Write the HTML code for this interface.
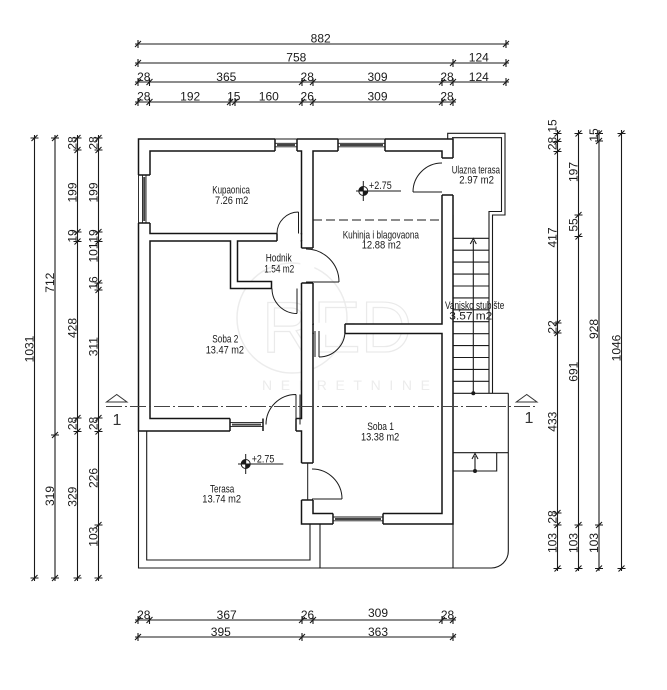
<!DOCTYPE html>
<html><head><meta charset="utf-8"><style>
html,body{margin:0;padding:0;background:#fff;}
svg{display:block;}
.d{font-family:"Liberation Sans",sans-serif;font-size:12px;fill:#1a1a1a;text-anchor:middle;}
.r{font-family:"Liberation Sans",sans-serif;font-size:11px;fill:#1a1a1a;}
</style></head><body>
<svg width="667" height="690" viewBox="0 0 667 690" xmlns="http://www.w3.org/2000/svg">
<rect width="667" height="690" fill="#fff"/>

<!-- watermark -->
<g fill="none" stroke="#ececec" stroke-width="1.5">
<circle cx="292" cy="318" r="55"/>
</g>
<text x="262" y="352" font-family="Liberation Sans,sans-serif" font-size="72" fill="none" stroke="#eaeaea" stroke-width="1.2" textLength="150" lengthAdjust="spacingAndGlyphs">RED</text>
<text x="262" y="390" font-family="Liberation Sans,sans-serif" font-size="14" fill="#ececec" textLength="168" lengthAdjust="spacing">NEKRETNINE</text>

<!-- dimension lines -->
<g stroke="#1a1a1a" stroke-width="1.1" fill="none">
<path d="M135 44H509M138 40V48M135 47L141 41M506 40V48M503 47L509 41
M135 63H509M138 59V67M135 66L141 60M453 59V67M450 66L456 60M506 59V67M503 66L509 60
M135 82H509M138 78V86M135 85L141 79M149.5 78V86M146.5 85L152.5 79M302 78V86M299 85L305 79M313 78V86M310 85L316 79M442 78V86M439 85L445 79M453 78V86M450 85L456 79M506 78V86M503 85L509 79
M135 102H456M138 98V106M135 105L141 99M149.5 98V106M146.5 105L152.5 99M230 98V106M227 105L233 99M235 98V106M232 105L238 99M302 98V106M299 105L305 99M313 98V106M310 105L316 99M442 98V106M439 105L445 99M453 98V106M450 105L456 99
M135 620H456M138 616V624M135 623L141 617M149.5 616V624M146.5 623L152.5 617M302 616V624M299 623L305 617M313 616V624M310 623L316 617M442 616V624M439 623L445 617M453 616V624M450 623L456 617
M135 637H456M138 633V641M135 640L141 634M302 633V641M299 640L305 634M453 633V641M450 640L456 634
M34.5 135V581M30.5 138H38.5M31.5 141L37.5 135M30.5 578H38.5M31.5 581L37.5 575
M55 135V581M51 138H59M52 141L58 135M51 435H59M52 438L58 432M51 578H59M52 581L58 575
M77.5 135V581M73.5 138H81.5M74.5 141L80.5 135M73.5 150H81.5M74.5 153L80.5 147M73.5 232H81.5M74.5 235L80.5 229M73.5 241.5H81.5M74.5 244.5L80.5 238.5M73.5 418H81.5M74.5 421L80.5 415M73.5 431.5H81.5M74.5 434.5L80.5 428.5M73.5 578H81.5M74.5 581L80.5 575
M98.5 135V581M94.5 138H102.5M95.5 141L101.5 135M94.5 150H102.5M95.5 153L101.5 147M94.5 232H102.5M95.5 235L101.5 229M94.5 241.5H102.5M95.5 244.5L101.5 238.5M94.5 283H102.5M95.5 286L101.5 280M94.5 290H102.5M95.5 293L101.5 287M94.5 418H102.5M95.5 421L101.5 415M94.5 431.5H102.5M95.5 434.5L101.5 428.5M94.5 525H102.5M95.5 528L101.5 522M94.5 578H102.5M95.5 581L101.5 575
M557.5 130V571M553.5 133.5H561.5M554.5 136.5L560.5 130.5M553.5 141.5H561.5M554.5 144.5L560.5 138.5M553.5 151.5H561.5M554.5 154.5L560.5 148.5M553.5 323H561.5M554.5 326L560.5 320M553.5 333H561.5M554.5 336L560.5 330M553.5 513H561.5M554.5 516L560.5 510M553.5 525H561.5M554.5 528L560.5 522M553.5 568.5H561.5M554.5 571.5L560.5 565.5
M578.5 130V571M574.5 133.5H582.5M575.5 136.5L581.5 130.5M574.5 215H582.5M575.5 218L581.5 212M574.5 236.5H582.5M575.5 239.5L581.5 233.5M574.5 525H582.5M575.5 528L581.5 522M574.5 568.5H582.5M575.5 571.5L581.5 565.5
M599 130V571M595 133.5H603M596 136.5L602 130.5M595 141H603M596 144L602 138M595 525H603M596 528L602 522M595 568.5H603M596 571.5L602 565.5
M621.5 130V571M617.5 133.5H625.5M618.5 136.5L624.5 130.5M617.5 568.5H625.5M618.5 571.5L624.5 565.5"/>
</g>

<!-- dimension texts top -->
<text class="d" x="320.7" y="42.5">882</text>
<text class="d" x="296.3" y="61.5">758</text>
<text class="d" x="478.8" y="61.5">124</text>
<text class="d" x="143.8" y="81">28</text>
<text class="d" x="226.3" y="81">365</text>
<text class="d" x="307.2" y="81">28</text>
<text class="d" x="377.5" y="81">309</text>
<text class="d" x="447" y="81">28</text>
<text class="d" x="478.8" y="81">124</text>
<text class="d" x="143.8" y="100.5">28</text>
<text class="d" x="190.2" y="100.5">192</text>
<text class="d" x="233.8" y="100.5">15</text>
<text class="d" x="268.8" y="100.5">160</text>
<text class="d" x="307.2" y="100.5">26</text>
<text class="d" x="377.5" y="100.5">309</text>
<text class="d" x="447" y="100.5">28</text>
<!-- bottom -->
<text class="d" x="143.8" y="619">28</text>
<text class="d" x="226.7" y="619">367</text>
<text class="d" x="307.5" y="619">26</text>
<text class="d" x="378" y="617">309</text>
<text class="d" x="447.5" y="619">28</text>
<text class="d" x="220.8" y="636">395</text>
<text class="d" x="378" y="636">363</text>
<!-- left -->
<text class="d" transform="translate(33.5,349) rotate(-90)">1031</text>
<text class="d" transform="translate(54,282.7) rotate(-90)">712</text>
<text class="d" transform="translate(54,496) rotate(-90)">319</text>
<text class="d" transform="translate(76.5,143) rotate(-90)">28</text>
<text class="d" transform="translate(76.5,192.5) rotate(-90)">199</text>
<text class="d" transform="translate(76.5,236) rotate(-90)">19</text>
<text class="d" transform="translate(76.5,328) rotate(-90)">428</text>
<text class="d" transform="translate(76.5,423.5) rotate(-90)">28</text>
<text class="d" transform="translate(76.5,496.7) rotate(-90)">329</text>
<text class="d" transform="translate(97.5,143) rotate(-90)">28</text>
<text class="d" transform="translate(97.5,192.5) rotate(-90)">199</text>
<text class="d" transform="translate(97.5,236) rotate(-90)">19</text>
<text class="d" transform="translate(97.5,252.5) rotate(-90)">101</text>
<text class="d" transform="translate(97.5,283) rotate(-90)">16</text>
<text class="d" transform="translate(97.5,346.7) rotate(-90)">311</text>
<text class="d" transform="translate(97.5,423.5) rotate(-90)">28</text>
<text class="d" transform="translate(97.5,478) rotate(-90)">226</text>
<text class="d" transform="translate(97.5,536.7) rotate(-90)">103</text>
<!-- right -->
<text class="d" transform="translate(556.5,126) rotate(-90)">15</text>
<text class="d" transform="translate(556.5,143.5) rotate(-90)">28</text>
<text class="d" transform="translate(556.5,237.5) rotate(-90)">417</text>
<text class="d" transform="translate(556.5,327) rotate(-90)">22</text>
<text class="d" transform="translate(556.5,421.7) rotate(-90)">433</text>
<text class="d" transform="translate(556.5,517) rotate(-90)">28</text>
<text class="d" transform="translate(556.5,543) rotate(-90)">103</text>
<text class="d" transform="translate(577.5,172) rotate(-90)">197</text>
<text class="d" transform="translate(577.5,225) rotate(-90)">55</text>
<text class="d" transform="translate(577.5,371.7) rotate(-90)">691</text>
<text class="d" transform="translate(577.5,543) rotate(-90)">103</text>
<text class="d" transform="translate(598,135) rotate(-90)">15</text>
<text class="d" transform="translate(598,329) rotate(-90)">928</text>
<text class="d" transform="translate(598,543) rotate(-90)">103</text>
<text class="d" transform="translate(620.5,348) rotate(-90)">1046</text>

<!-- terasa, stairs, outer thin lines -->
<g stroke="#1a1a1a" stroke-width="1.1" fill="none">
<path d="M453 215V568M508.3 393.3V551A17 17 0 0 1 491.3 568H138.5V431"/>
<path d="M146.7 431V560H310V524M320 524V568"/>
<path d="M447.7 139V133.3H505V215H492.5V393.3M452 137.7H501.5V211.5H489V393.3"/>
<path d="M453 393.3H508.3M453 452.7H508.3M496.7 452.7V471H453"/>
<path d="M453 238.3H489M453 250.2H489M453 262.1H489M453 274.1H489M453 286H489M453 297.9H489M453 309.8H489M453 321.7H489M453 333.7H489M453 345.6H489M453 357.5H489M453 369.4H489M453 381.3H489"/>
<path d="M473.3 241V393.3M470.3 244L473.3 238.5L476.3 244"/>
<path d="M475 456V471M472 459L475 453.5L478 459"/>
</g>
<circle cx="473.3" cy="393.3" r="2" fill="#1a1a1a"/>
<circle cx="475" cy="471" r="2" fill="#1a1a1a"/>

<!-- walls -->
<path fill="#fff" fill-rule="evenodd" stroke="#141414" stroke-width="1.5" stroke-linejoin="miter"
d="M138.5 139H453V524H301.5V431H138.5Z
M150 151H301.5V233.5H150Z
M313 151H442V324H313Z
M313 333.5H442V513.5H313Z
M150 241H230.5V288.5H271.5V281.5H237.5V241H301.5V418.5H150Z"/>

<!-- openings whiteout -->
<g fill="#fff">
<rect x="277" y="232.3" width="23.6" height="9.9"/>
<rect x="300.3" y="248" width="14" height="35"/>
<rect x="313.9" y="322.8" width="31" height="11.9"/>
<rect x="440.8" y="158" width="13.5" height="37"/>
<rect x="263" y="417.3" width="33" height="14.9"/>
<rect x="300.3" y="463" width="14" height="37"/>
<rect x="275" y="137.8" width="22" height="14.4"/>
<rect x="338" y="137.8" width="47" height="14.4"/>
<rect x="137.3" y="175" width="14" height="48"/>
<rect x="230" y="417.3" width="33" height="14.9"/>
<rect x="333" y="512.3" width="50" height="12.9"/>
</g>

<!-- caps / jambs -->
<g stroke="#141414" stroke-width="1.5" fill="none">
<path d="M277 233.5V241M301.5 233.5V241
M301.5 248H313M301.5 283H313
M313 324V333.5M345 324V333.5
M442 158H453M442 195H453
M263 418.5V431M296 418.5V431
M301.5 463H313M301.5 500H313
M275 139V151M297 139V151
M338 139V151M385 139V151
M138.5 175H150M138.5 223H150
M230 418.5V431M263 418.5V431
M333 513.5V524M383 513.5V524"/>
</g>
<!-- windows -->
<g stroke="#1a1a1a" stroke-width="0.9" fill="none">
<path d="M275 139H297M275 143.3H297M275 146.8H297
M338 139H385M338 143.3H385M338 146.8H385
M138.5 175V223M142.5 175V223M146 175V223
M230 422.6H263M230 426.6H263
M333 517H383M333 520.8H383"/>
</g>
<g stroke="#444" stroke-width="2" fill="none">
<path d="M277 145H295M340 145H383M144.2 177V221M232 424.6H261M335 519H381"/>
</g>

<!-- doors -->
<g stroke="#1a1a1a" stroke-width="1" fill="none">
<path d="M298.5 233.5V212M277 233.5A21.5 21.5 0 0 1 298.5 212"/>
<path d="M306 282H339M339 282A33 33 0 0 0 306 249"/>
<path d="M297 288.5V313.5M301.5 288.5V313.5M272 288.5A25 25 0 0 0 297 313.5"/>
<path d="M319 331V357M315 331V357M345 331A26 26 0 0 1 319 357"/>
<path d="M442 192H413M413 192A29 29 0 0 1 442 163"/>
<path d="M296 424.5V394.5M300 424.5V394.5M266 424.5A30 30 0 0 1 296 394.5"/>
<path d="M312 499H342M312 469A30 30 0 0 1 342 499M307.7 463V500"/>
</g>

<!-- kitchen dashed line -->
<path d="M313 220H442" stroke="#1a1a1a" stroke-width="1" stroke-dasharray="9 4" fill="none"/>

<!-- section line -->
<path d="M106 406.5H538" stroke="#444" stroke-width="1" stroke-dasharray="16 3 2 3" fill="none"/>
<g stroke="#333" stroke-width="1" fill="none">
<path d="M116.7 394.5L106.5 402H127Z"/>
<path d="M526.7 394.5L516.3 402H537Z"/>
</g>
<text x="117" y="425" font-family="Liberation Sans,sans-serif" font-size="16" fill="#333" text-anchor="middle">1</text>
<text x="529" y="423" font-family="Liberation Sans,sans-serif" font-size="16" fill="#333" text-anchor="middle">1</text>

<!-- level marks -->
<g stroke="#1a1a1a" stroke-width="1" fill="none">
<path d="M363.3 181V201M356 191H401"/>
<circle cx="363.3" cy="191" r="4.5"/>
<path d="M245.7 454V474M238 464H283.3"/>
<circle cx="245.7" cy="464" r="4.5"/>
</g>
<path d="M363.3 191H367.8A4.5 4.5 0 0 1 363.3 195.5ZM363.3 191H358.8A4.5 4.5 0 0 1 363.3 186.5Z" fill="#1a1a1a"/>
<path d="M245.7 464H250.2A4.5 4.5 0 0 1 245.7 468.5ZM245.7 464H241.2A4.5 4.5 0 0 1 245.7 459.5Z" fill="#1a1a1a"/>
<text class="r" x="369" y="189" textLength="22.7" lengthAdjust="spacingAndGlyphs">+2.75</text>
<text class="r" x="251.7" y="462.7" textLength="22.6" lengthAdjust="spacingAndGlyphs">+2.75</text>

<!-- room labels -->
<text class="r" x="212.3" y="193.3" textLength="37.7" lengthAdjust="spacingAndGlyphs">Kupaonica</text>
<text class="r" x="215" y="204" textLength="33.3" lengthAdjust="spacingAndGlyphs">7.26  m2</text>
<text class="r" x="265.7" y="261.7" textLength="26" lengthAdjust="spacingAndGlyphs">Hodnik</text>
<text class="r" x="264.3" y="272.7" textLength="30" lengthAdjust="spacingAndGlyphs">1.54  m2</text>
<text class="r" x="342.7" y="238.3" textLength="76.3" lengthAdjust="spacingAndGlyphs">Kuhinja i blagovaona</text>
<text class="r" x="361.7" y="248.3" textLength="39.3" lengthAdjust="spacingAndGlyphs">12.88  m2</text>
<text class="r" x="451.7" y="173.3" textLength="48.3" lengthAdjust="spacingAndGlyphs">Ulazna terasa</text>
<text class="r" x="459.3" y="183.3" textLength="34.7" lengthAdjust="spacingAndGlyphs">2.97  m2</text>
<text class="r" x="445" y="309" textLength="59.3" lengthAdjust="spacingAndGlyphs">Vanjsko stubište</text>
<text class="r" x="449.3" y="319.3" textLength="43" lengthAdjust="spacingAndGlyphs">3.57  m2</text>
<text class="r" x="212.3" y="342.3" textLength="26" lengthAdjust="spacingAndGlyphs">Soba 2</text>
<text class="r" x="205.7" y="353.3" textLength="38.3" lengthAdjust="spacingAndGlyphs">13.47  m2</text>
<text class="r" x="367.3" y="430" textLength="26.7" lengthAdjust="spacingAndGlyphs">Soba 1</text>
<text class="r" x="361" y="440.7" textLength="38.3" lengthAdjust="spacingAndGlyphs">13.38  m2</text>
<text class="r" x="210" y="492.7" textLength="24.3" lengthAdjust="spacingAndGlyphs">Terasa</text>
<text class="r" x="202.3" y="502.7" textLength="38.7" lengthAdjust="spacingAndGlyphs">13.74  m2</text>
</svg>
</body></html>
